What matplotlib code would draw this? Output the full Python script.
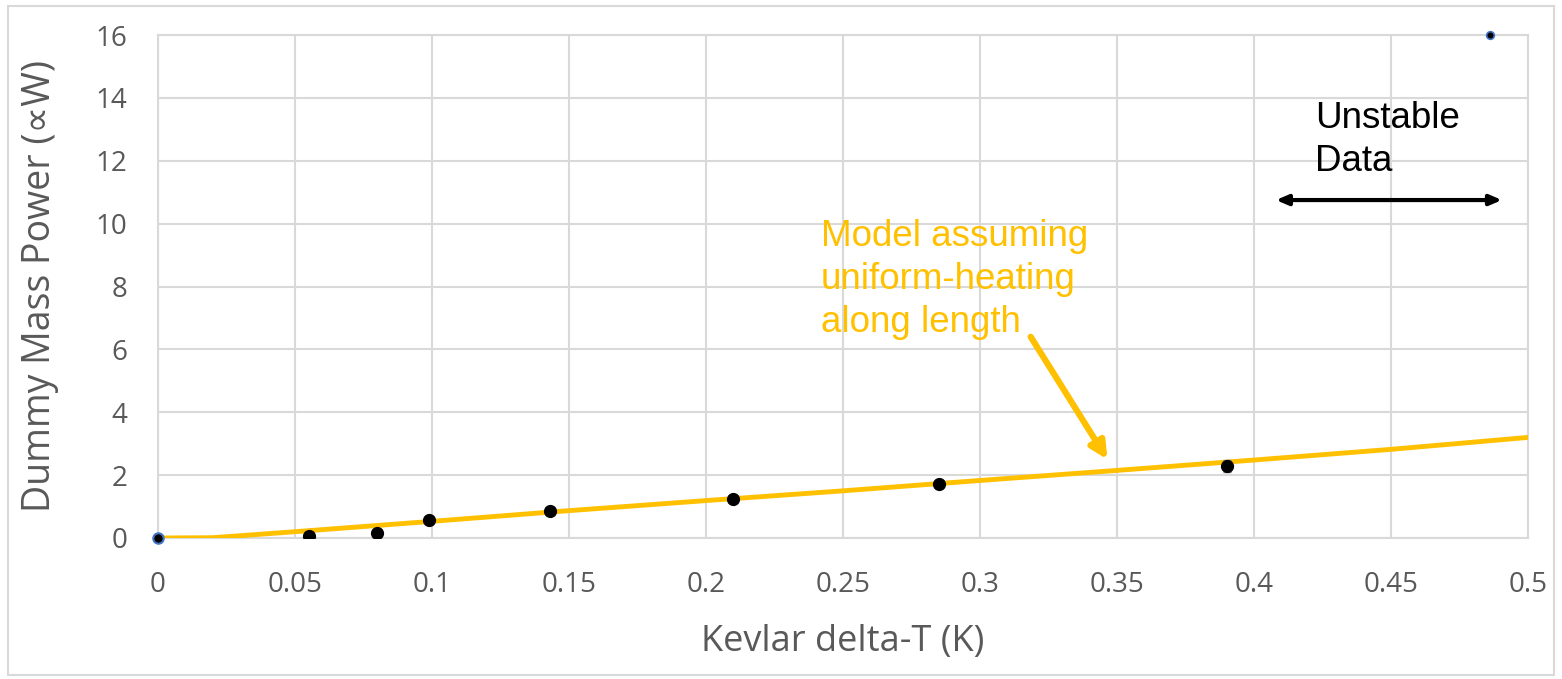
import matplotlib.pyplot as plt
from matplotlib.patches import Rectangle

# measured points (Kevlar delta-T vs dummy mass power)
dt = [0.0, 0.055, 0.08, 0.099, 0.143, 0.21, 0.285, 0.39]
power = [0.0, 0.07, 0.17, 0.57, 0.87, 1.24, 1.72, 2.29]
power_err = [0.0, 0.0, 0.0, 0.0, 0.0, 0.0, 0.0, 0.2]

# unstable point
dt_unstable = [0.486]
power_unstable = [16.0]

# model line, uniform heating along length
model_dt = [0.0, 0.02, 0.05, 0.1, 0.15, 0.2, 0.25, 0.3, 0.35, 0.4, 0.45, 0.5]
model_power = [0.0, 0.01, 0.2, 0.53, 0.87, 1.19, 1.5, 1.83, 2.15, 2.48, 2.82, 3.2]

x_ticks = [0, 0.05, 0.1, 0.15, 0.2, 0.25, 0.3, 0.35, 0.4, 0.45, 0.5]
x_labels = ['0', '0.05', '0.1', '0.15', '0.2', '0.25', '0.3', '0.35', '0.4', '0.45', '0.5']
y_ticks = [0, 2, 4, 6, 8, 10, 12, 14, 16]

gold = '#FFC000'
gray = '#595959'

fig = plt.figure(figsize=(15.62, 6.79), dpi=100)
ax = fig.add_axes([158 / 1562, 141 / 679, 1370 / 1562, 503 / 679])

# chart frame
fig.patches.append(Rectangle((8 / 1562, 4 / 679), 1546 / 1562, 669 / 679,
                             transform=fig.transFigure, fill=False,
                             edgecolor='#D9D9D9', linewidth=1.5))

ax.plot(model_dt, model_power, color=gold, linewidth=3.5, zorder=3)
ax.errorbar(dt[1:], power[1:], yerr=power_err[1:], fmt='o', color='black',
            markersize=8.5, ecolor='#7F7F7F', elinewidth=1.5, capsize=3, zorder=4)
ax.plot(dt[:1], power[:1], 'o', color='black', markeredgecolor='#4472C4',
        markersize=7.5, markeredgewidth=1.5, zorder=5, clip_on=False)
ax.plot(dt_unstable, power_unstable, 'o', color='black', markeredgecolor='#4472C4',
        markersize=5.5, markeredgewidth=1.2, zorder=5, clip_on=False)

ax.set_xlim(0, 0.5)
ax.set_ylim(0, 16)
ax.set_xticks(x_ticks)
ax.set_xticklabels(x_labels)
ax.set_yticks(y_ticks)
ax.grid(True, color='#D9D9D9', linewidth=1.5)
ax.set_axisbelow(True)
for s in ax.spines.values():
    s.set_color('#D9D9D9')
    s.set_linewidth(1.5)
ax.tick_params(length=0, labelsize=20, labelcolor=gray)
ax.tick_params(axis='x', pad=24)
ax.tick_params(axis='y', pad=22)
for lab in ax.get_xticklabels() + ax.get_yticklabels():
    lab.set_fontfamily('Open Sans')

ax.set_xlabel('Kevlar delta-T (K)', fontsize=26, color=gray, family='Open Sans', labelpad=18)
ax.set_ylabel('Dummy Mass Power (\u221dW)', fontsize=27, color=gray,
              family=['Open Sans', 'DejaVu Sans'], labelpad=26)

# annotations
ax.text(0.2420, 10.15, 'Model assuming\nuniform-heating\nalong length', color=gold,
        fontsize=26.5, family='Liberation Sans', va='top', ha='left', linespacing=1.3)
ax.annotate('', xy=(0.3465, 2.5), xytext=(0.3185, 6.4),
            arrowprops=dict(arrowstyle='-|>,head_length=1.0,head_width=0.5',
                            color=gold, linewidth=4.5, shrinkA=0, shrinkB=0))
ax.text(0.4223, 13.9, 'Unstable\nData', color='black', fontsize=26.5,
        family='Liberation Sans', va='top', ha='left', linespacing=1.3)
ax.annotate('', xy=(0.4905, 10.75), xytext=(0.408, 10.75),
            arrowprops=dict(arrowstyle='<|-|>,head_length=0.7,head_width=0.3',
                            color='black', linewidth=3, shrinkA=0, shrinkB=0))

fig.savefig('out.png', dpi=100)
